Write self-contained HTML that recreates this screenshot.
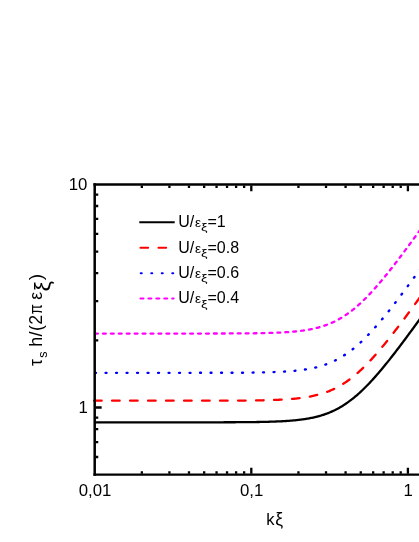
<!DOCTYPE html>
<html><head><meta charset="utf-8"><title>chart</title>
<style>
html,body{margin:0;padding:0;background:#fff;}
body{width:419px;height:542px;overflow:hidden;font-family:"Liberation Sans",sans-serif;}
svg{display:block;}
</style></head><body>
<svg width="419" height="542" viewBox="0 0 419 542">
<path d="M94.10,422.34 L95.10,422.34 L96.10,422.34 L97.10,422.34 L98.10,422.34 L99.10,422.34 L100.10,422.34 L101.10,422.34 L102.10,422.34 L103.10,422.34 L104.10,422.34 L105.10,422.34 L106.10,422.34 L107.10,422.34 L108.10,422.34 L109.10,422.34 L110.10,422.34 L111.10,422.34 L112.10,422.34 L113.10,422.34 L114.10,422.34 L115.10,422.34 L116.10,422.34 L117.10,422.34 L118.10,422.34 L119.10,422.34 L120.10,422.34 L121.10,422.34 L122.10,422.34 L123.10,422.34 L124.10,422.34 L125.10,422.34 L126.10,422.34 L127.10,422.34 L128.10,422.34 L129.10,422.34 L130.10,422.34 L131.10,422.34 L132.10,422.34 L133.10,422.34 L134.10,422.34 L135.10,422.34 L136.10,422.34 L137.10,422.34 L138.10,422.34 L139.10,422.34 L140.10,422.34 L141.10,422.34 L142.10,422.34 L143.10,422.34 L144.10,422.34 L145.10,422.34 L146.10,422.34 L147.10,422.34 L148.10,422.34 L149.10,422.34 L150.10,422.34 L151.10,422.34 L152.10,422.34 L153.10,422.34 L154.10,422.34 L155.10,422.34 L156.10,422.34 L157.10,422.34 L158.10,422.34 L159.10,422.34 L160.10,422.34 L161.10,422.34 L162.10,422.34 L163.10,422.34 L164.10,422.34 L165.10,422.34 L166.10,422.34 L167.10,422.34 L168.10,422.33 L169.10,422.33 L170.10,422.33 L171.10,422.33 L172.10,422.33 L173.10,422.33 L174.10,422.33 L175.10,422.33 L176.10,422.33 L177.10,422.33 L178.10,422.33 L179.10,422.33 L180.10,422.33 L181.10,422.33 L182.10,422.33 L183.10,422.33 L184.10,422.33 L185.10,422.33 L186.10,422.33 L187.10,422.33 L188.10,422.33 L189.10,422.33 L190.10,422.33 L191.10,422.33 L192.10,422.33 L193.10,422.32 L194.10,422.32 L195.10,422.32 L196.10,422.32 L197.10,422.32 L198.10,422.32 L199.10,422.32 L200.10,422.32 L201.10,422.32 L202.10,422.32 L203.10,422.32 L204.10,422.31 L205.10,422.31 L206.10,422.31 L207.10,422.31 L208.10,422.31 L209.10,422.31 L210.10,422.31 L211.10,422.30 L212.10,422.30 L213.10,422.30 L214.10,422.30 L215.10,422.30 L216.10,422.30 L217.10,422.29 L218.10,422.29 L219.10,422.29 L220.10,422.29 L221.10,422.28 L222.10,422.28 L223.10,422.28 L224.10,422.27 L225.10,422.27 L226.10,422.27 L227.10,422.26 L228.10,422.26 L229.10,422.26 L230.10,422.25 L231.10,422.25 L232.10,422.24 L233.10,422.24 L234.10,422.23 L235.10,422.23 L236.10,422.22 L237.10,422.22 L238.10,422.21 L239.10,422.20 L240.10,422.20 L241.10,422.19 L242.10,422.18 L243.10,422.17 L244.10,422.17 L245.10,422.16 L246.10,422.15 L247.10,422.14 L248.10,422.13 L249.10,422.12 L250.10,422.11 L251.10,422.09 L252.10,422.08 L253.10,422.07 L254.10,422.06 L255.10,422.04 L256.10,422.03 L257.10,422.01 L258.10,421.99 L259.10,421.98 L260.10,421.96 L261.10,421.94 L262.10,421.92 L263.10,421.90 L264.10,421.88 L265.10,421.85 L266.10,421.83 L267.10,421.80 L268.10,421.78 L269.10,421.75 L270.10,421.72 L271.10,421.69 L272.10,421.66 L273.10,421.62 L274.10,421.59 L275.10,421.55 L276.10,421.51 L277.10,421.47 L278.10,421.43 L279.10,421.38 L280.10,421.33 L281.10,421.28 L282.10,421.23 L283.10,421.18 L284.10,421.12 L285.10,421.06 L286.10,420.99 L287.10,420.93 L288.10,420.86 L289.10,420.79 L290.10,420.71 L291.10,420.63 L292.10,420.55 L293.10,420.46 L294.10,420.37 L295.10,420.27 L296.10,420.17 L297.10,420.06 L298.10,419.95 L299.10,419.84 L300.10,419.72 L301.10,419.59 L302.10,419.46 L303.10,419.32 L304.10,419.18 L305.10,419.03 L306.10,418.87 L307.10,418.70 L308.10,418.53 L309.10,418.35 L310.10,418.17 L311.10,417.97 L312.10,417.77 L313.10,417.55 L314.10,417.33 L315.10,417.10 L316.10,416.86 L317.10,416.61 L318.10,416.35 L319.10,416.08 L320.10,415.79 L321.10,415.50 L322.10,415.19 L323.10,414.87 L324.10,414.54 L325.10,414.20 L326.10,413.85 L327.10,413.48 L328.10,413.09 L329.10,412.70 L330.10,412.29 L331.10,411.86 L332.10,411.42 L333.10,410.96 L334.10,410.49 L335.10,410.01 L336.10,409.50 L337.10,408.98 L338.10,408.45 L339.10,407.90 L340.10,407.33 L341.10,406.74 L342.10,406.14 L343.10,405.52 L344.10,404.89 L345.10,404.23 L346.10,403.56 L347.10,402.87 L348.10,402.16 L349.10,401.44 L350.10,400.70 L351.10,399.94 L352.10,399.16 L353.10,398.37 L354.10,397.56 L355.10,396.73 L356.10,395.88 L357.10,395.02 L358.10,394.14 L359.10,393.25 L360.10,392.33 L361.10,391.41 L362.10,390.46 L363.10,389.50 L364.10,388.53 L365.10,387.54 L366.10,386.54 L367.10,385.52 L368.10,384.48 L369.10,383.44 L370.10,382.38 L371.10,381.30 L372.10,380.22 L373.10,379.12 L374.10,378.01 L375.10,376.89 L376.10,375.75 L377.10,374.61 L378.10,373.45 L379.10,372.28 L380.10,371.10 L381.10,369.92 L382.10,368.72 L383.10,367.51 L384.10,366.30 L385.10,365.08 L386.10,363.84 L387.10,362.60 L388.10,361.36 L389.10,360.10 L390.10,358.84 L391.10,357.57 L392.10,356.29 L393.10,355.01 L394.10,353.72 L395.10,352.43 L396.10,351.13 L397.10,349.82 L398.10,348.51 L399.10,347.19 L400.10,345.87 L401.10,344.55 L402.10,343.22 L403.10,341.88 L404.10,340.54 L405.10,339.20 L406.10,337.85 L407.10,336.50 L408.10,335.15 L409.10,333.80 L410.10,332.44 L411.10,331.07 L412.10,329.71 L413.10,328.34 L414.10,326.97 L415.10,325.60 L416.10,324.22 L417.10,322.84 L418.10,321.46 L419.10,320.08 L420.10,318.70 L421.10,317.31 L422.10,315.92 L423.10,314.53 L424.10,313.14" fill="none" stroke="#000000" stroke-width="2.3"/>
<path d="M94.10,400.72 L95.10,400.72 L96.10,400.72 L97.10,400.72 L98.10,400.72 L99.10,400.72 L100.10,400.72 L101.10,400.72 L102.10,400.72 L103.10,400.72 L104.10,400.72 L105.10,400.72 L106.10,400.72 L107.10,400.72 L108.10,400.72 L109.10,400.72 L110.10,400.72 L111.10,400.72 L112.10,400.72 L113.10,400.72 L114.10,400.72 L115.10,400.72 L116.10,400.72 L117.10,400.72 L118.10,400.72 L119.10,400.72 L120.10,400.72 L121.10,400.72 L122.10,400.72 L123.10,400.72 L124.10,400.72 L125.10,400.72 L126.10,400.72 L127.10,400.72 L128.10,400.72 L129.10,400.72 L130.10,400.72 L131.10,400.72 L132.10,400.72 L133.10,400.72 L134.10,400.72 L135.10,400.72 L136.10,400.72 L137.10,400.72 L138.10,400.72 L139.10,400.72 L140.10,400.72 L141.10,400.72 L142.10,400.72 L143.10,400.72 L144.10,400.72 L145.10,400.72 L146.10,400.72 L147.10,400.72 L148.10,400.72 L149.10,400.72 L150.10,400.72 L151.10,400.72 L152.10,400.72 L153.10,400.72 L154.10,400.72 L155.10,400.72 L156.10,400.72 L157.10,400.72 L158.10,400.72 L159.10,400.72 L160.10,400.72 L161.10,400.72 L162.10,400.72 L163.10,400.72 L164.10,400.71 L165.10,400.71 L166.10,400.71 L167.10,400.71 L168.10,400.71 L169.10,400.71 L170.10,400.71 L171.10,400.71 L172.10,400.71 L173.10,400.71 L174.10,400.71 L175.10,400.71 L176.10,400.71 L177.10,400.71 L178.10,400.71 L179.10,400.71 L180.10,400.71 L181.10,400.71 L182.10,400.71 L183.10,400.71 L184.10,400.71 L185.10,400.71 L186.10,400.71 L187.10,400.71 L188.10,400.71 L189.10,400.71 L190.10,400.71 L191.10,400.71 L192.10,400.70 L193.10,400.70 L194.10,400.70 L195.10,400.70 L196.10,400.70 L197.10,400.70 L198.10,400.70 L199.10,400.70 L200.10,400.70 L201.10,400.70 L202.10,400.70 L203.10,400.70 L204.10,400.69 L205.10,400.69 L206.10,400.69 L207.10,400.69 L208.10,400.69 L209.10,400.69 L210.10,400.69 L211.10,400.68 L212.10,400.68 L213.10,400.68 L214.10,400.68 L215.10,400.68 L216.10,400.67 L217.10,400.67 L218.10,400.67 L219.10,400.67 L220.10,400.67 L221.10,400.66 L222.10,400.66 L223.10,400.66 L224.10,400.65 L225.10,400.65 L226.10,400.65 L227.10,400.64 L228.10,400.64 L229.10,400.64 L230.10,400.63 L231.10,400.63 L232.10,400.62 L233.10,400.62 L234.10,400.61 L235.10,400.61 L236.10,400.60 L237.10,400.60 L238.10,400.59 L239.10,400.58 L240.10,400.58 L241.10,400.57 L242.10,400.56 L243.10,400.55 L244.10,400.54 L245.10,400.54 L246.10,400.53 L247.10,400.52 L248.10,400.51 L249.10,400.50 L250.10,400.49 L251.10,400.47 L252.10,400.46 L253.10,400.45 L254.10,400.44 L255.10,400.42 L256.10,400.41 L257.10,400.39 L258.10,400.37 L259.10,400.36 L260.10,400.34 L261.10,400.32 L262.10,400.30 L263.10,400.28 L264.10,400.26 L265.10,400.23 L266.10,400.21 L267.10,400.18 L268.10,400.16 L269.10,400.13 L270.10,400.10 L271.10,400.07 L272.10,400.04 L273.10,400.00 L274.10,399.97 L275.10,399.93 L276.10,399.89 L277.10,399.85 L278.10,399.80 L279.10,399.76 L280.10,399.71 L281.10,399.66 L282.10,399.61 L283.10,399.55 L284.10,399.50 L285.10,399.44 L286.10,399.37 L287.10,399.31 L288.10,399.24 L289.10,399.17 L290.10,399.09 L291.10,399.01 L292.10,398.93 L293.10,398.84 L294.10,398.75 L295.10,398.65 L296.10,398.55 L297.10,398.44 L298.10,398.33 L299.10,398.22 L300.10,398.10 L301.10,397.97 L302.10,397.84 L303.10,397.70 L304.10,397.56 L305.10,397.41 L306.10,397.25 L307.10,397.08 L308.10,396.91 L309.10,396.73 L310.10,396.55 L311.10,396.35 L312.10,396.15 L313.10,395.93 L314.10,395.71 L315.10,395.48 L316.10,395.24 L317.10,394.99 L318.10,394.73 L319.10,394.46 L320.10,394.17 L321.10,393.88 L322.10,393.57 L323.10,393.25 L324.10,392.92 L325.10,392.58 L326.10,392.22 L327.10,391.86 L328.10,391.47 L329.10,391.08 L330.10,390.66 L331.10,390.24 L332.10,389.80 L333.10,389.34 L334.10,388.87 L335.10,388.39 L336.10,387.88 L337.10,387.36 L338.10,386.83 L339.10,386.28 L340.10,385.71 L341.10,385.12 L342.10,384.52 L343.10,383.90 L344.10,383.27 L345.10,382.61 L346.10,381.94 L347.10,381.25 L348.10,380.54 L349.10,379.82 L350.10,379.08 L351.10,378.32 L352.10,377.54 L353.10,376.75 L354.10,375.94 L355.10,375.11 L356.10,374.26 L357.10,373.40 L358.10,372.52 L359.10,371.63 L360.10,370.71 L361.10,369.79 L362.10,368.84 L363.10,367.88 L364.10,366.91 L365.10,365.92 L366.10,364.92 L367.10,363.90 L368.10,362.86 L369.10,361.82 L370.10,360.76 L371.10,359.68 L372.10,358.60 L373.10,357.50 L374.10,356.39 L375.10,355.27 L376.10,354.13 L377.10,352.98 L378.10,351.83 L379.10,350.66 L380.10,349.48 L381.10,348.30 L382.10,347.10 L383.10,345.89 L384.10,344.68 L385.10,343.46 L386.10,342.22 L387.10,340.98 L388.10,339.74 L389.10,338.48 L390.10,337.22 L391.10,335.95 L392.10,334.67 L393.10,333.39 L394.10,332.10 L395.10,330.81 L396.10,329.50 L397.10,328.20 L398.10,326.89 L399.10,325.57 L400.10,324.25 L401.10,322.92 L402.10,321.59 L403.10,320.26 L404.10,318.92 L405.10,317.58 L406.10,316.23 L407.10,314.88 L408.10,313.53 L409.10,312.17 L410.10,310.82 L411.10,309.45 L412.10,308.09 L413.10,306.72 L414.10,305.35 L415.10,303.98 L416.10,302.60 L417.10,301.22 L418.10,299.84 L419.10,298.46 L420.10,297.08 L421.10,295.69 L422.10,294.30 L423.10,292.91 L424.10,291.52" fill="none" stroke="#ff0000" stroke-width="2.3" stroke-dasharray="7.6 10.4" stroke-dashoffset="0.05" stroke-linecap="round"/>
<path d="M94.10,372.84 L95.10,372.84 L96.10,372.84 L97.10,372.84 L98.10,372.84 L99.10,372.84 L100.10,372.84 L101.10,372.84 L102.10,372.84 L103.10,372.84 L104.10,372.84 L105.10,372.84 L106.10,372.84 L107.10,372.84 L108.10,372.84 L109.10,372.84 L110.10,372.84 L111.10,372.84 L112.10,372.84 L113.10,372.84 L114.10,372.84 L115.10,372.84 L116.10,372.84 L117.10,372.84 L118.10,372.84 L119.10,372.84 L120.10,372.84 L121.10,372.84 L122.10,372.84 L123.10,372.84 L124.10,372.84 L125.10,372.84 L126.10,372.84 L127.10,372.84 L128.10,372.84 L129.10,372.84 L130.10,372.84 L131.10,372.84 L132.10,372.84 L133.10,372.84 L134.10,372.84 L135.10,372.84 L136.10,372.84 L137.10,372.84 L138.10,372.84 L139.10,372.84 L140.10,372.84 L141.10,372.84 L142.10,372.84 L143.10,372.84 L144.10,372.84 L145.10,372.84 L146.10,372.84 L147.10,372.84 L148.10,372.84 L149.10,372.84 L150.10,372.84 L151.10,372.84 L152.10,372.84 L153.10,372.84 L154.10,372.84 L155.10,372.84 L156.10,372.84 L157.10,372.84 L158.10,372.84 L159.10,372.84 L160.10,372.84 L161.10,372.84 L162.10,372.84 L163.10,372.84 L164.10,372.84 L165.10,372.84 L166.10,372.84 L167.10,372.84 L168.10,372.84 L169.10,372.84 L170.10,372.84 L171.10,372.84 L172.10,372.84 L173.10,372.84 L174.10,372.84 L175.10,372.84 L176.10,372.84 L177.10,372.84 L178.10,372.84 L179.10,372.84 L180.10,372.84 L181.10,372.84 L182.10,372.84 L183.10,372.84 L184.10,372.84 L185.10,372.84 L186.10,372.83 L187.10,372.83 L188.10,372.83 L189.10,372.83 L190.10,372.83 L191.10,372.83 L192.10,372.83 L193.10,372.83 L194.10,372.83 L195.10,372.83 L196.10,372.83 L197.10,372.83 L198.10,372.83 L199.10,372.83 L200.10,372.82 L201.10,372.82 L202.10,372.82 L203.10,372.82 L204.10,372.82 L205.10,372.82 L206.10,372.82 L207.10,372.82 L208.10,372.82 L209.10,372.81 L210.10,372.81 L211.10,372.81 L212.10,372.81 L213.10,372.81 L214.10,372.80 L215.10,372.80 L216.10,372.80 L217.10,372.80 L218.10,372.80 L219.10,372.79 L220.10,372.79 L221.10,372.79 L222.10,372.79 L223.10,372.78 L224.10,372.78 L225.10,372.78 L226.10,372.77 L227.10,372.77 L228.10,372.77 L229.10,372.76 L230.10,372.76 L231.10,372.75 L232.10,372.75 L233.10,372.74 L234.10,372.74 L235.10,372.73 L236.10,372.73 L237.10,372.72 L238.10,372.72 L239.10,372.71 L240.10,372.70 L241.10,372.69 L242.10,372.69 L243.10,372.68 L244.10,372.67 L245.10,372.66 L246.10,372.65 L247.10,372.64 L248.10,372.63 L249.10,372.62 L250.10,372.61 L251.10,372.60 L252.10,372.59 L253.10,372.57 L254.10,372.56 L255.10,372.55 L256.10,372.53 L257.10,372.52 L258.10,372.50 L259.10,372.48 L260.10,372.46 L261.10,372.45 L262.10,372.43 L263.10,372.40 L264.10,372.38 L265.10,372.36 L266.10,372.34 L267.10,372.31 L268.10,372.28 L269.10,372.25 L270.10,372.23 L271.10,372.19 L272.10,372.16 L273.10,372.13 L274.10,372.09 L275.10,372.05 L276.10,372.02 L277.10,371.97 L278.10,371.93 L279.10,371.89 L280.10,371.84 L281.10,371.79 L282.10,371.74 L283.10,371.68 L284.10,371.62 L285.10,371.56 L286.10,371.50 L287.10,371.43 L288.10,371.36 L289.10,371.29 L290.10,371.22 L291.10,371.14 L292.10,371.05 L293.10,370.96 L294.10,370.87 L295.10,370.78 L296.10,370.68 L297.10,370.57 L298.10,370.46 L299.10,370.34 L300.10,370.22 L301.10,370.10 L302.10,369.97 L303.10,369.83 L304.10,369.68 L305.10,369.53 L306.10,369.38 L307.10,369.21 L308.10,369.04 L309.10,368.86 L310.10,368.67 L311.10,368.48 L312.10,368.27 L313.10,368.06 L314.10,367.84 L315.10,367.61 L316.10,367.37 L317.10,367.11 L318.10,366.85 L319.10,366.58 L320.10,366.30 L321.10,366.00 L322.10,365.70 L323.10,365.38 L324.10,365.05 L325.10,364.71 L326.10,364.35 L327.10,363.98 L328.10,363.60 L329.10,363.20 L330.10,362.79 L331.10,362.37 L332.10,361.92 L333.10,361.47 L334.10,361.00 L335.10,360.51 L336.10,360.01 L337.10,359.49 L338.10,358.96 L339.10,358.40 L340.10,357.84 L341.10,357.25 L342.10,356.65 L343.10,356.03 L344.10,355.39 L345.10,354.74 L346.10,354.07 L347.10,353.38 L348.10,352.67 L349.10,351.95 L350.10,351.20 L351.10,350.44 L352.10,349.67 L353.10,348.87 L354.10,348.06 L355.10,347.23 L356.10,346.39 L357.10,345.53 L358.10,344.65 L359.10,343.75 L360.10,342.84 L361.10,341.91 L362.10,340.97 L363.10,340.01 L364.10,339.04 L365.10,338.05 L366.10,337.04 L367.10,336.02 L368.10,334.99 L369.10,333.94 L370.10,332.88 L371.10,331.81 L372.10,330.72 L373.10,329.63 L374.10,328.51 L375.10,327.39 L376.10,326.26 L377.10,325.11 L378.10,323.95 L379.10,322.79 L380.10,321.61 L381.10,320.42 L382.10,319.23 L383.10,318.02 L384.10,316.81 L385.10,315.58 L386.10,314.35 L387.10,313.11 L388.10,311.86 L389.10,310.61 L390.10,309.34 L391.10,308.07 L392.10,306.80 L393.10,305.52 L394.10,304.23 L395.10,302.93 L396.10,301.63 L397.10,300.33 L398.10,299.01 L399.10,297.70 L400.10,296.38 L401.10,295.05 L402.10,293.72 L403.10,292.39 L404.10,291.05 L405.10,289.71 L406.10,288.36 L407.10,287.01 L408.10,285.66 L409.10,284.30 L410.10,282.94 L411.10,281.58 L412.10,280.21 L413.10,278.85 L414.10,277.47 L415.10,276.10 L416.10,274.73 L417.10,273.35 L418.10,271.97 L419.10,270.59 L420.10,269.20 L421.10,267.82 L422.10,266.43 L423.10,265.04 L424.10,263.65" fill="none" stroke="#0000ff" stroke-width="2.4" stroke-dasharray="0.9 9.6" stroke-dashoffset="-1.0" stroke-linecap="round"/>
<path d="M94.10,333.56 L95.10,333.56 L96.10,333.56 L97.10,333.56 L98.10,333.56 L99.10,333.56 L100.10,333.56 L101.10,333.56 L102.10,333.56 L103.10,333.56 L104.10,333.56 L105.10,333.56 L106.10,333.56 L107.10,333.56 L108.10,333.56 L109.10,333.56 L110.10,333.56 L111.10,333.56 L112.10,333.56 L113.10,333.56 L114.10,333.56 L115.10,333.56 L116.10,333.56 L117.10,333.56 L118.10,333.56 L119.10,333.56 L120.10,333.56 L121.10,333.56 L122.10,333.56 L123.10,333.56 L124.10,333.56 L125.10,333.56 L126.10,333.56 L127.10,333.56 L128.10,333.56 L129.10,333.56 L130.10,333.56 L131.10,333.56 L132.10,333.56 L133.10,333.56 L134.10,333.56 L135.10,333.56 L136.10,333.56 L137.10,333.56 L138.10,333.56 L139.10,333.56 L140.10,333.56 L141.10,333.56 L142.10,333.56 L143.10,333.56 L144.10,333.56 L145.10,333.56 L146.10,333.56 L147.10,333.56 L148.10,333.56 L149.10,333.56 L150.10,333.56 L151.10,333.56 L152.10,333.56 L153.10,333.56 L154.10,333.56 L155.10,333.56 L156.10,333.56 L157.10,333.56 L158.10,333.56 L159.10,333.56 L160.10,333.56 L161.10,333.56 L162.10,333.56 L163.10,333.56 L164.10,333.56 L165.10,333.56 L166.10,333.55 L167.10,333.55 L168.10,333.55 L169.10,333.55 L170.10,333.55 L171.10,333.55 L172.10,333.55 L173.10,333.55 L174.10,333.55 L175.10,333.55 L176.10,333.55 L177.10,333.55 L178.10,333.55 L179.10,333.55 L180.10,333.55 L181.10,333.55 L182.10,333.55 L183.10,333.55 L184.10,333.55 L185.10,333.55 L186.10,333.55 L187.10,333.55 L188.10,333.55 L189.10,333.55 L190.10,333.55 L191.10,333.55 L192.10,333.55 L193.10,333.54 L194.10,333.54 L195.10,333.54 L196.10,333.54 L197.10,333.54 L198.10,333.54 L199.10,333.54 L200.10,333.54 L201.10,333.54 L202.10,333.54 L203.10,333.54 L204.10,333.53 L205.10,333.53 L206.10,333.53 L207.10,333.53 L208.10,333.53 L209.10,333.53 L210.10,333.53 L211.10,333.52 L212.10,333.52 L213.10,333.52 L214.10,333.52 L215.10,333.52 L216.10,333.51 L217.10,333.51 L218.10,333.51 L219.10,333.51 L220.10,333.51 L221.10,333.50 L222.10,333.50 L223.10,333.50 L224.10,333.49 L225.10,333.49 L226.10,333.49 L227.10,333.48 L228.10,333.48 L229.10,333.48 L230.10,333.47 L231.10,333.47 L232.10,333.46 L233.10,333.46 L234.10,333.45 L235.10,333.45 L236.10,333.44 L237.10,333.44 L238.10,333.43 L239.10,333.42 L240.10,333.42 L241.10,333.41 L242.10,333.40 L243.10,333.39 L244.10,333.39 L245.10,333.38 L246.10,333.37 L247.10,333.36 L248.10,333.35 L249.10,333.34 L250.10,333.33 L251.10,333.31 L252.10,333.30 L253.10,333.29 L254.10,333.28 L255.10,333.26 L256.10,333.25 L257.10,333.23 L258.10,333.21 L259.10,333.20 L260.10,333.18 L261.10,333.16 L262.10,333.14 L263.10,333.12 L264.10,333.10 L265.10,333.07 L266.10,333.05 L267.10,333.02 L268.10,333.00 L269.10,332.97 L270.10,332.94 L271.10,332.91 L272.10,332.88 L273.10,332.84 L274.10,332.81 L275.10,332.77 L276.10,332.73 L277.10,332.69 L278.10,332.65 L279.10,332.60 L280.10,332.55 L281.10,332.50 L282.10,332.45 L283.10,332.40 L284.10,332.34 L285.10,332.28 L286.10,332.21 L287.10,332.15 L288.10,332.08 L289.10,332.01 L290.10,331.93 L291.10,331.85 L292.10,331.77 L293.10,331.68 L294.10,331.59 L295.10,331.49 L296.10,331.39 L297.10,331.28 L298.10,331.17 L299.10,331.06 L300.10,330.94 L301.10,330.81 L302.10,330.68 L303.10,330.54 L304.10,330.40 L305.10,330.25 L306.10,330.09 L307.10,329.92 L308.10,329.75 L309.10,329.57 L310.10,329.39 L311.10,329.19 L312.10,328.99 L313.10,328.77 L314.10,328.55 L315.10,328.32 L316.10,328.08 L317.10,327.83 L318.10,327.57 L319.10,327.30 L320.10,327.01 L321.10,326.72 L322.10,326.41 L323.10,326.09 L324.10,325.76 L325.10,325.42 L326.10,325.07 L327.10,324.70 L328.10,324.31 L329.10,323.92 L330.10,323.51 L331.10,323.08 L332.10,322.64 L333.10,322.18 L334.10,321.71 L335.10,321.23 L336.10,320.72 L337.10,320.20 L338.10,319.67 L339.10,319.12 L340.10,318.55 L341.10,317.96 L342.10,317.36 L343.10,316.74 L344.10,316.11 L345.10,315.45 L346.10,314.78 L347.10,314.09 L348.10,313.38 L349.10,312.66 L350.10,311.92 L351.10,311.16 L352.10,310.38 L353.10,309.59 L354.10,308.78 L355.10,307.95 L356.10,307.10 L357.10,306.24 L358.10,305.36 L359.10,304.47 L360.10,303.55 L361.10,302.63 L362.10,301.68 L363.10,300.72 L364.10,299.75 L365.10,298.76 L366.10,297.76 L367.10,296.74 L368.10,295.70 L369.10,294.66 L370.10,293.60 L371.10,292.52 L372.10,291.44 L373.10,290.34 L374.10,289.23 L375.10,288.11 L376.10,286.97 L377.10,285.83 L378.10,284.67 L379.10,283.50 L380.10,282.32 L381.10,281.14 L382.10,279.94 L383.10,278.73 L384.10,277.52 L385.10,276.30 L386.10,275.06 L387.10,273.82 L388.10,272.58 L389.10,271.32 L390.10,270.06 L391.10,268.79 L392.10,267.51 L393.10,266.23 L394.10,264.94 L395.10,263.65 L396.10,262.35 L397.10,261.04 L398.10,259.73 L399.10,258.41 L400.10,257.09 L401.10,255.77 L402.10,254.44 L403.10,253.10 L404.10,251.76 L405.10,250.42 L406.10,249.07 L407.10,247.72 L408.10,246.37 L409.10,245.01 L410.10,243.66 L411.10,242.29 L412.10,240.93 L413.10,239.56 L414.10,238.19 L415.10,236.82 L416.10,235.44 L417.10,234.06 L418.10,232.68 L419.10,231.30 L420.10,229.92 L421.10,228.53 L422.10,227.14 L423.10,225.75 L424.10,224.36" fill="none" stroke="#ff00ff" stroke-width="2.3" stroke-dasharray="2.9 5.03" stroke-dashoffset="-0.9" stroke-linecap="round"/>
<g stroke="#000" stroke-width="2.5" fill="none">
<path d="M94.70,183.15 V475.76"/>
<path d="M93.45,184.40 H424"/>
<path d="M93.45,474.66 H424" stroke-width="2.3"/>
</g>
<path d="M141.84,185.45 v2.50 M141.84,473.71 v-2.50 M169.42,185.45 v2.50 M169.42,473.71 v-2.50 M188.98,185.45 v2.50 M188.98,473.71 v-2.50 M204.16,185.45 v2.50 M204.16,473.71 v-2.50 M216.56,185.45 v2.50 M216.56,473.71 v-2.50 M227.04,185.45 v2.50 M227.04,473.71 v-2.50 M236.12,185.45 v2.50 M236.12,473.71 v-2.50 M244.13,185.45 v2.50 M244.13,473.71 v-2.50 M251.30,185.45 v5.90 M251.30,473.71 v-5.90 M298.44,185.45 v2.50 M298.44,473.71 v-2.50 M326.02,185.45 v2.50 M326.02,473.71 v-2.50 M345.58,185.45 v2.50 M345.58,473.71 v-2.50 M360.76,185.45 v2.50 M360.76,473.71 v-2.50 M373.16,185.45 v2.50 M373.16,473.71 v-2.50 M383.64,185.45 v2.50 M383.64,473.71 v-2.50 M392.72,185.45 v2.50 M392.72,473.71 v-2.50 M400.73,185.45 v2.50 M400.73,473.71 v-2.50 M407.90,185.45 v5.90 M407.90,473.71 v-5.90 M95.75,456.99 h2.50 M95.75,442.06 h2.50 M95.75,429.12 h2.50 M95.75,417.71 h2.50 M95.75,407.50 h5.90 M95.75,340.34 h2.50 M95.75,301.05 h2.50 M95.75,273.18 h2.50 M95.75,251.56 h2.50 M95.75,233.89 h2.50 M95.75,218.96 h2.50 M95.75,206.02 h2.50 M95.75,194.61 h2.50" stroke="#000" stroke-width="2.3" fill="none"/>
<path d="M139.3,222.2 H174.7" fill="none" stroke="#000000" stroke-width="2.15"/>
<path d="M139.3,247.7 H174.7" fill="none" stroke="#ff0000" stroke-width="2.15" stroke-dasharray="7.6 10.4" stroke-dashoffset="-1.2" stroke-linecap="round"/>
<path d="M139.6,273.2 H174.7" fill="none" stroke="#0000ff" stroke-width="2.15" stroke-dasharray="0.9 9.6" stroke-dashoffset="-1.2" stroke-linecap="round"/>
<path d="M139.3,298.5 H173.6" fill="none" stroke="#ff00ff" stroke-width="2.15" stroke-dasharray="2.9 5.03" stroke-dashoffset="-1.2" stroke-linecap="round"/>
<g font-family="'Liberation Sans', sans-serif" fill="#000" style="filter:grayscale(1)">
<text x="178.3" y="227.1" font-size="16">U/</text>
<text x="195.05" y="227.1" font-size="13.6">&#949;</text>
<text transform="translate(200.9,231.3) scale(1.33,1)" font-size="11">&#958;</text>
<text x="207.5" y="227.1" font-size="16">=1</text>
<text x="178.3" y="252.6" font-size="16">U/</text>
<text x="195.05" y="252.6" font-size="13.6">&#949;</text>
<text transform="translate(200.9,256.8) scale(1.33,1)" font-size="11">&#958;</text>
<text x="207.5" y="252.6" font-size="16">=0.8</text>
<text x="178.3" y="278.1" font-size="16">U/</text>
<text x="195.05" y="278.1" font-size="13.6">&#949;</text>
<text transform="translate(200.9,282.3) scale(1.33,1)" font-size="11">&#958;</text>
<text x="207.5" y="278.1" font-size="16">=0.6</text>
<text x="178.3" y="303.4" font-size="16">U/</text>
<text x="195.05" y="303.4" font-size="13.6">&#949;</text>
<text transform="translate(200.9,307.6) scale(1.33,1)" font-size="11">&#958;</text>
<text x="207.5" y="303.4" font-size="16">=0.4</text>
<text x="87.3" y="189.8" font-size="16.8" text-anchor="end">10</text>
<text x="87.9" y="413.0" font-size="16.8" text-anchor="end">1</text>
<text x="95.0" y="495.7" font-size="16.8" text-anchor="middle">0,01</text>
<text x="251.6" y="495.7" font-size="16.8" text-anchor="middle">0,1</text>
<text x="408.2" y="495.7" font-size="16.8" text-anchor="middle">1</text>
<text x="266.2" y="524.6" font-size="16.5">k<tspan font-size="17.5" dx="0.8">&#958;</tspan></text>
<text transform="translate(42.2,366.05) rotate(-90)" font-size="17.8">&#964;</text>
<text transform="translate(47.3,357.67) rotate(-90)" font-size="12.5">s</text>
<text transform="translate(42.2,346.74) rotate(-90)" font-size="17.8" letter-spacing="0.4">h/(2</text>
<text transform="translate(42.2,314.3) rotate(-90) scale(0.82,1)" font-size="17.8">&#960;</text>
<text transform="translate(42.2,299.8) rotate(-90)" font-size="17.8">&#949;</text>
<text transform="translate(50.3,291.4) rotate(-90) scale(1.06,1)" font-size="22">&#958;</text>
<text transform="translate(42.2,280.3) rotate(-90)" font-size="19.2">)</text>
</g>
</svg>
</body></html>
